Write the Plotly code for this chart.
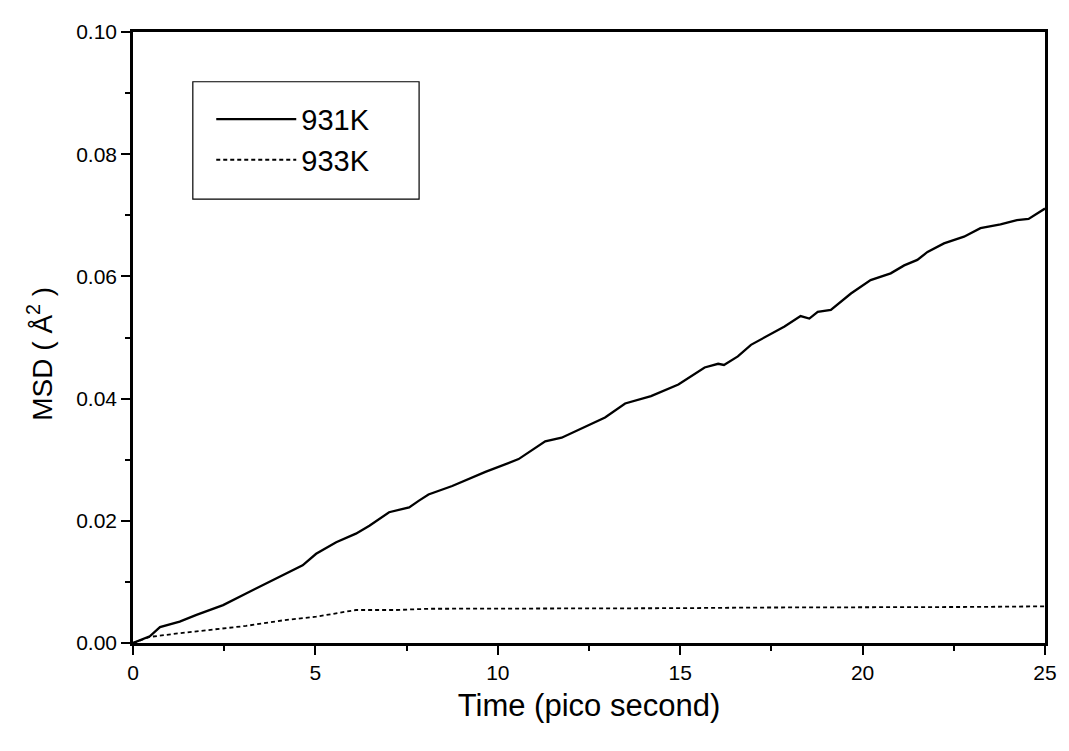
import plotly.graph_objects as go

# 931K mean square displacement
t931 = [0, 0.19, 0.46, 0.74, 1.28, 1.74, 2.47, 3.1, 3.74, 4.2, 4.65, 5.02, 5.57, 6.11, 6.48, 7.02, 7.57, 7.84,
        8.1, 8.75, 9.66, 10.57, 11.3, 11.75, 12.2, 12.94, 13.49, 14.2, 14.95, 15.67, 16.04, 16.2, 16.58, 16.94,
        17.86, 18.3, 18.54, 18.77, 19.13, 19.68, 20.22, 20.77, 21.14, 21.5, 21.78, 22.23, 22.78, 23.23, 23.78,
        24.23, 24.55, 24.78, 25.0]
msd931 = [0.0, 0.0005, 0.0011, 0.0026, 0.0035, 0.0046, 0.0062, 0.0081, 0.0100, 0.0113, 0.0127, 0.0146,
          0.0165, 0.0179, 0.0192, 0.0214, 0.0222, 0.0233, 0.0243, 0.0257, 0.0280, 0.0301, 0.0330, 0.0336,
          0.0348, 0.0369, 0.0392, 0.0404, 0.0423, 0.0451, 0.0457, 0.0455, 0.0469, 0.0488, 0.0518, 0.0535,
          0.0531, 0.0542, 0.0545, 0.0572, 0.0594, 0.0605, 0.0618, 0.0627, 0.0640, 0.0654, 0.0665, 0.0679,
          0.0685, 0.0692, 0.0694, 0.0702, 0.0711]

# 933K mean square displacement
t933 = [0, 0.46, 1.28, 2.2, 3.1, 4.1, 5.02, 6.11, 7.2, 8.1, 9.0, 10.85, 13.0, 15.0, 17.0, 19.0, 21.0, 23.0, 25.0]
msd933 = [0.0, 0.0010, 0.0016, 0.0022, 0.0028, 0.0037, 0.0043, 0.0054, 0.0054, 0.0056, 0.0056, 0.0056,
          0.0057, 0.0057, 0.0058, 0.0058, 0.0059, 0.0059, 0.0060]

series_names = ["931K", "933K"]
xticks = [0, 5, 10, 15, 20, 25]
yticks = [0, 0.02, 0.04, 0.06, 0.08, 0.10]
yticktext = ["0.00", "0.02", "0.04", "0.06", "0.08", "0.10"]
x_title = "Time (pico second)"
y_title = "MSD ( Å<sup>2</sup> )"

fig = go.Figure()
fig.add_trace(go.Scatter(x=t931, y=msd931, mode="lines", name=series_names[0],
                         line=dict(color="black", width=2.3, dash="solid")))
fig.add_trace(go.Scatter(x=t933, y=msd933, mode="lines", name=series_names[1],
                         line=dict(color="black", width=1.8, dash="4px,3px")))

font = "Liberation Sans, Arial, sans-serif"
fig.update_layout(
    width=1061, height=743,
    margin=dict(l=125, r=21, t=21, b=108),
    plot_bgcolor="white", paper_bgcolor="white",
    font=dict(family=font, color="black"),
    showlegend=True,
    legend=dict(x=0.0858, y=0.899, xanchor="left", yanchor="top",
                borderwidth=0, bgcolor="rgba(0,0,0,0)",
                font=dict(size=29, family=font), itemwidth=80,
                tracegroupgap=0),
    shapes=[dict(type="rect", xref="paper", yref="paper",
                 x0=0.0656, x1=0.3137, y0=0.7264, y1=0.9186,
                 line=dict(color="black", width=1.2), fillcolor="rgba(0,0,0,0)")],
    annotations=[dict(text=y_title, xref="paper", yref="paper", x=-0.1016, y=0.474,
                      xanchor="center", yanchor="middle", textangle=-90, showarrow=False,
                      font=dict(size=28, family=font))],
    xaxis=dict(range=[0, 25], tickmode="array", tickvals=xticks,
               ticks="outside", ticklen=9, tickwidth=2, tickcolor="black",
               minor=dict(ticks="outside", ticklen=5, tickwidth=1.5, tickcolor="black", dtick=2.5),
               showline=True, linecolor="black", linewidth=2.5, mirror=True,
               showgrid=False, zeroline=False,
               tickfont=dict(size=21, family=font),
               title=dict(text=x_title, font=dict(size=31, family=font), standoff=12)),
    yaxis=dict(range=[0, 0.1], tickmode="array", tickvals=yticks, ticktext=yticktext,
               ticks="outside", ticklen=9, tickwidth=2, tickcolor="black",
               minor=dict(ticks="outside", ticklen=5, tickwidth=1.5, tickcolor="black", dtick=0.01),
               showline=True, linecolor="black", linewidth=2.5, mirror=True,
               showgrid=False, zeroline=False,
               tickfont=dict(size=21, family=font)),
)

fig.write_html("out.html")
